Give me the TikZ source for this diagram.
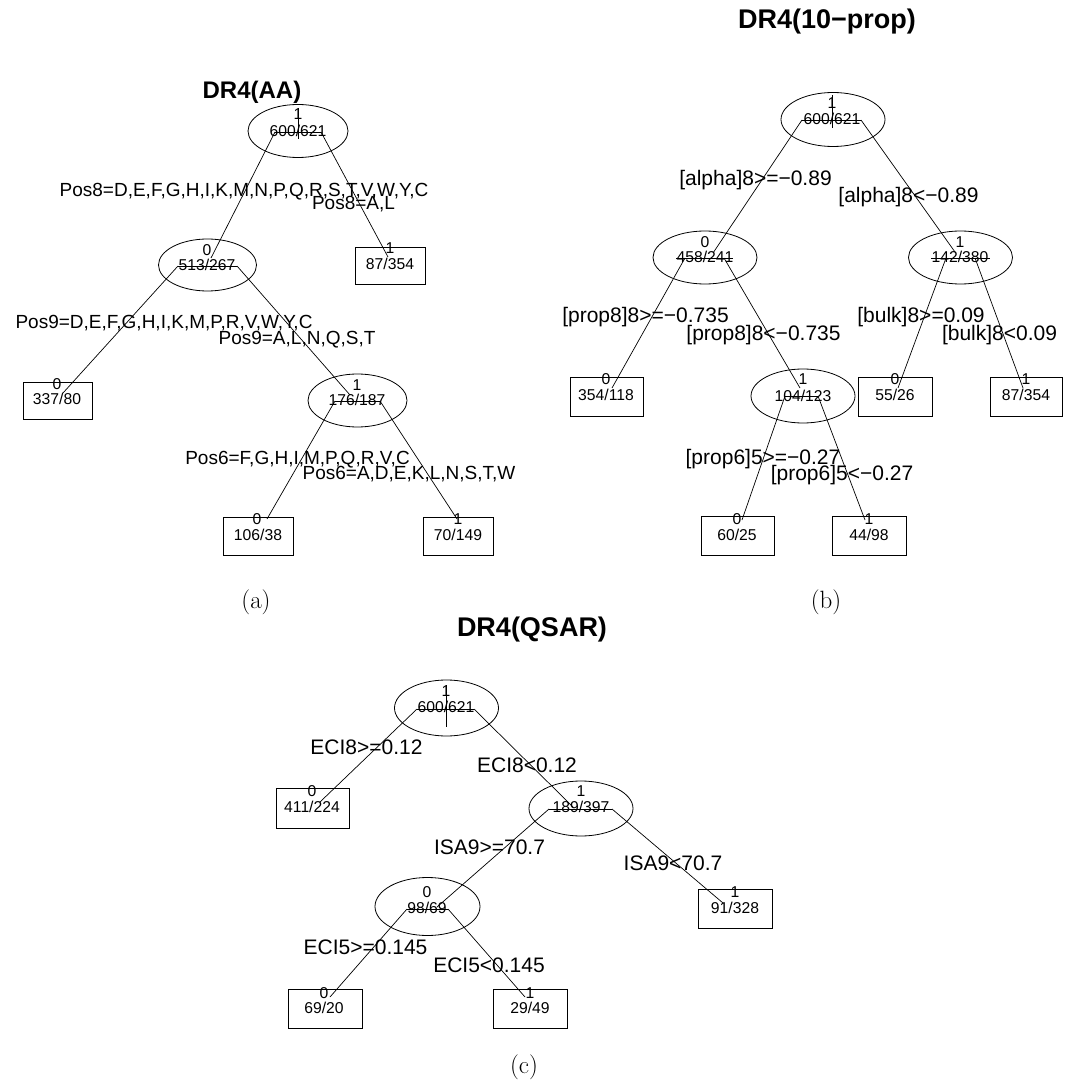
\documentclass[tikz,border=0pt]{standalone}
\usepackage{fontspec}
\newfontfamily\arialfont{Liberation Sans}
\usetikzlibrary{shapes.geometric}
\begin{document}
\begin{tikzpicture}[x=1pt,y=-1pt,
  ell/.style={ellipse, draw, inner sep=0pt, line width=0.8pt},
  leaf/.style={rectangle, draw, inner sep=0pt, line width=0.8pt},
  br/.style={line width=0.7pt},
  cnt/.style={font=\arialfont\fontsize{15.7}{16}\selectfont, anchor=base, inner sep=0pt, yshift=-5.6pt},
  lbla/.style={font=\arialfont\fontsize{19}{19}\selectfont, anchor=base, inner sep=0pt, yshift=-6.8pt},
  lblb/.style={font=\arialfont\fontsize{21}{21}\selectfont, anchor=base, inner sep=0pt, yshift=-7.5pt},
  ttla/.style={font=\arialfont\bfseries\fontsize{24}{24}\selectfont, anchor=base, inner sep=0pt, yshift=-8.6pt},
  ttlb/.style={font=\arialfont\bfseries\fontsize{27}{27}\selectfont, anchor=base, inner sep=0pt, yshift=-9.7pt},
  capt/.style={font=\fontsize{25}{25}\selectfont, anchor=base, inner sep=0pt, yshift=-6.3pt}
]
\useasboundingbox (0,0) rectangle (1088,1086);

% ================= (a) =================
\node[ttla] (ta) at (252,90) {DR4(AA)};
\node[capt] (ca) at (256,602) {(a)};

\node[ell, minimum width=100, minimum height=53] (a1) at (298,131) {};
\node[cnt] (a1y) at (298,114) {1};
\node[cnt] (a1n) at (298,131) {600/621};
\node[ell, minimum width=98, minimum height=52] (a2) at (207.5,265) {};
\node[cnt] (a2y) at (207,250) {0};
\node[cnt] (a2n) at (207,265) {513/267};
\node[leaf, minimum width=70, minimum height=37] (a3) at (390,265.5) {};
\node[cnt] (a3y) at (390,248) {1};
\node[cnt] (a3n) at (390,264) {87/354};
\node[leaf, minimum width=69, minimum height=37] (a4) at (57.5,400.5) {};
\node[cnt] (a4y) at (57,384) {0};
\node[cnt] (a4n) at (57,399) {337/80};
\node[ell, minimum width=99, minimum height=53] (a5) at (357.5,400.5) {};
\node[cnt] (a5y) at (357,385) {1};
\node[cnt] (a5n) at (357,400) {176/187};
\node[leaf, minimum width=70, minimum height=38] (a6) at (258,536) {};
\node[cnt] (a6y) at (257,519) {0};
\node[cnt] (a6n) at (258,535) {106/38};
\node[leaf, minimum width=70, minimum height=38] (a7) at (458,536) {};
\node[cnt] (a7y) at (458,519) {1};
\node[cnt] (a7n) at (458,535) {70/149};

\node[lbla] (la1) at (244,190) {Pos8=D,E,F,G,H,I,K,M,N,P,Q,R,S,T,V,W,Y,C};
\node[lbla] (la2) at (353.5,203) {Pos8=A,L};
\node[lbla] (la3) at (164,322) {Pos9=D,E,F,G,H,I,K,M,P,R,V,W,Y,C};
\node[lbla] (la4) at (297,338) {Pos9=A,L,N,Q,S,T};
\node[lbla] (la5) at (297.5,458) {Pos6=F,G,H,I,M,P,Q,R,V,C};
\node[lbla] (la6) at (409,473) {Pos6=A,D,E,K,L,N,S,T,W};

\coordinate (a1s) at (298,108); \coordinate (a1e) at (298,139);
\coordinate (a1l) at (275,132); \coordinate (a1r) at (321,132);
\coordinate (a2t) at (211,258); \coordinate (a3t) at (388,257);
\coordinate (a2l) at (178,266); \coordinate (a2r) at (237,266);
\coordinate (a4t) at (63,393); \coordinate (a5t) at (350,395);
\coordinate (a5l) at (335,401); \coordinate (a5r) at (380,401);
\coordinate (a6t) at (267,519); \coordinate (a7t) at (457,519);
\draw[br] (a1s) -- (a1e);
\draw[br] (a1l) -- (a1r);
\draw[br] (a1l) -- (a2t);
\draw[br] (a1r) -- (a3t);
\draw[br] (a2l) -- (a2r);
\draw[br] (a2l) -- (a4t);
\draw[br] (a2r) -- (a5t);
\draw[br] (a5l) -- (a5r);
\draw[br] (a5l) -- (a6t);
\draw[br] (a5r) -- (a7t);

% ================= (b) =================
\node[ttlb] (tb) at (827,19) {DR4(10−prop)};
\node[capt] (cb) at (826,602) {(b)};

\node[ell, minimum width=104, minimum height=54] (b1) at (833,119.5) {};
\node[cnt] (b1y) at (832,103) {1};
\node[cnt] (b1n) at (832,119) {600/621};
\node[ell, minimum width=104, minimum height=53] (b2) at (705,257.5) {};
\node[cnt] (b2y) at (705,242) {0};
\node[cnt] (b2n) at (705,257) {458/241};
\node[ell, minimum width=104, minimum height=53] (b3) at (960.5,257.5) {};
\node[cnt] (b3y) at (960,242) {1};
\node[cnt] (b3n) at (960,257) {142/380};
\node[leaf, minimum width=73, minimum height=39] (b4) at (606.5,396.5) {};
\node[cnt] (b4y) at (606,379) {0};
\node[cnt] (b4n) at (606,395) {354/118};
\node[ell, minimum width=104, minimum height=54] (b5) at (803,396) {};
\node[cnt] (b5y) at (803,379) {1};
\node[cnt] (b5n) at (803,396) {104/123};
\node[leaf, minimum width=74, minimum height=39] (b6) at (895,396.5) {};
\node[cnt] (b6y) at (895,379) {0};
\node[cnt] (b6n) at (895,395) {55/26};
\node[leaf, minimum width=72, minimum height=39] (b7) at (1026,396.5) {};
\node[cnt] (b7y) at (1026,379) {1};
\node[cnt] (b7n) at (1026,395) {87/354};
\node[leaf, minimum width=73, minimum height=39] (b8) at (737.5,535.5) {};
\node[cnt] (b8y) at (737,519) {0};
\node[cnt] (b8n) at (737,535) {60/25};
\node[leaf, minimum width=74, minimum height=39] (b9) at (869,535.5) {};
\node[cnt] (b9y) at (869,519) {1};
\node[cnt] (b9n) at (869,535) {44/98};

\node[lblb] (lb1) at (755.5,178) {[alpha]8>=−0.89};
\node[lblb] (lb2) at (908.5,195) {[alpha]8<−0.89};
\node[lblb] (lb3) at (645.5,315) {[prop8]8>=−0.735};
\node[lblb] (lb4) at (763.5,333) {[prop8]8<−0.735};
\node[lblb] (lb5) at (921,315) {[bulk]8>=0.09};
\node[lblb] (lb6) at (999.5,333) {[bulk]8<0.09};
\node[lblb] (lb7) at (763,457) {[prop6]5>=−0.27};
\node[lblb] (lb8) at (842,473) {[prop6]5<−0.27};

\coordinate (b1s) at (832,95); \coordinate (b1e) at (832,128);
\coordinate (b1l) at (802,120); \coordinate (b1r) at (861,120);
\coordinate (b2t) at (713,253); \coordinate (b3t) at (955,252);
\coordinate (b2l) at (676,258); \coordinate (b2r) at (733,258);
\coordinate (b2a) at (685,258); \coordinate (b2b) at (724,258);
\coordinate (b3l) at (931,258); \coordinate (b3r) at (990,258);
\coordinate (b3a) at (946,258); \coordinate (b3b) at (975,258);
\coordinate (b4t) at (612,388); \coordinate (b5t) at (800,388);
\coordinate (b6t) at (898,388); \coordinate (b7t) at (1023,388);
\coordinate (b5l) at (785,396); \coordinate (b5r) at (818,396);
\coordinate (b8t) at (742,520); \coordinate (b9t) at (865,520);
\draw[br] (b1s) -- (b1e);
\draw[br] (b1l) -- (b1r);
\draw[br] (b1l) -- (b2t);
\draw[br] (b1r) -- (b3t);
\draw[br] (b2l) -- (b2r);
\draw[br] (b2a) -- (b4t);
\draw[br] (b2b) -- (b5t);
\draw[br] (b3l) -- (b3r);
\draw[br] (b3a) -- (b6t);
\draw[br] (b3b) -- (b7t);
\draw[br] (b5l) -- (b5r);
\draw[br] (b5l) -- (b8t);
\draw[br] (b5r) -- (b9t);

% ================= (c) =================
\node[ttlb] (tc) at (532,627) {DR4(QSAR)};
\node[capt] (cc) at (524,1067) {(c)};

\node[ell, minimum width=104, minimum height=56] (c1) at (446.5,708) {};
\node[cnt] (c1y) at (446,691) {1};
\node[cnt] (c1n) at (446,707) {600/621};
\node[leaf, minimum width=73, minimum height=40] (c2) at (312.5,808) {};
\node[cnt] (c2y) at (312,791) {0};
\node[cnt] (c2n) at (312,807) {411/224};
\node[ell, minimum width=104, minimum height=55] (c3) at (581,808.5) {};
\node[cnt] (c3y) at (581,791) {1};
\node[cnt] (c3n) at (581,807) {189/397};
\node[ell, minimum width=105, minimum height=58] (c4) at (427.5,906.5) {};
\node[cnt] (c4y) at (427,892) {0};
\node[cnt] (c4n) at (427,908) {98/69};
\node[leaf, minimum width=74, minimum height=39] (c5) at (735,908.5) {};
\node[cnt] (c5y) at (735,892) {1};
\node[cnt] (c5n) at (735,908) {91/328};
\node[leaf, minimum width=74, minimum height=39] (c6) at (325,1008.5) {};
\node[cnt] (c6y) at (324,993) {0};
\node[cnt] (c6n) at (324,1008) {69/20};
\node[leaf, minimum width=74, minimum height=39] (c7) at (530,1008.5) {};
\node[cnt] (c7y) at (530,993) {1};
\node[cnt] (c7n) at (530,1008) {29/49};

\node[lblb] (lc1) at (366.5,747) {ECI8>=0.12};
\node[lblb] (lc2) at (527,765) {ECI8<0.12};
\node[lblb] (lc3) at (489.5,847) {ISA9>=70.7};
\node[lblb] (lc4) at (673,863) {ISA9<70.7};
\node[lblb] (lc5) at (365.5,947) {ECI5>=0.145};
\node[lblb] (lc6) at (489,965) {ECI5<0.145};

\coordinate (c1s) at (446,685); \coordinate (c1e) at (446,727);
\coordinate (c1l) at (417,709); \coordinate (c1r) at (474,709);
\coordinate (c2t) at (320,802); \coordinate (c3t) at (573,807);
\coordinate (c3l) at (549,809); \coordinate (c3r) at (612,809);
\coordinate (c4t) at (437,907); \coordinate (c5t) at (723,903);
\coordinate (c4l) at (407,909); \coordinate (c4r) at (448,909);
\coordinate (c6t) at (330,997); \coordinate (c7t) at (525,997);
\draw[br] (c1s) -- (c1e);
\draw[br] (c1l) -- (c1r);
\draw[br] (c1l) -- (c2t);
\draw[br] (c1r) -- (c3t);
\draw[br] (c3l) -- (c3r);
\draw[br] (c3l) -- (c4t);
\draw[br] (c3r) -- (c5t);
\draw[br] (c4l) -- (c4r);
\draw[br] (c4l) -- (c6t);
\draw[br] (c4r) -- (c7t);
\end{tikzpicture}
\end{document}
